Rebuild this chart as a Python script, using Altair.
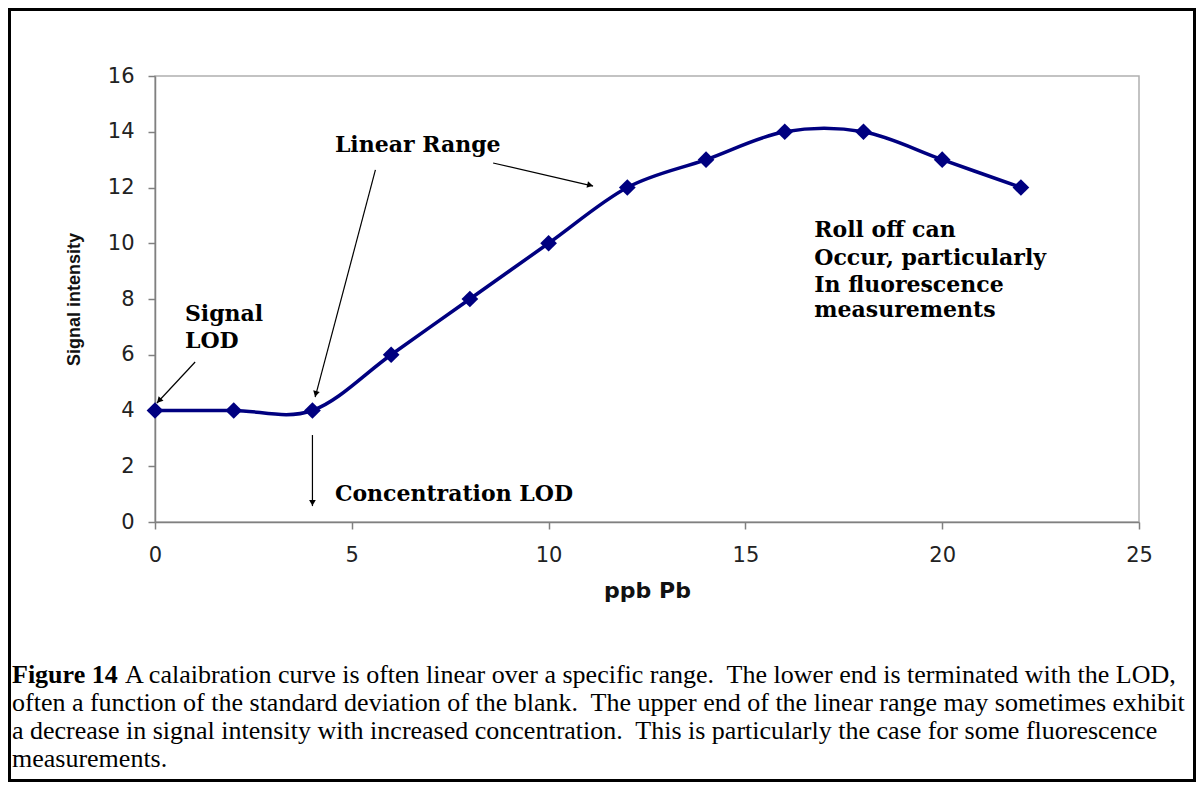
import altair as alt
import pandas as pd

# ---- data ----
ppb = [0, 2, 4, 6, 8, 10, 12, 14, 16, 18, 20, 22]
signal = [4, 4, 4, 6, 8, 10, 12, 13, 14, 14, 13, 12]

x_ticks = [0, 5, 10, 15, 20, 25]
y_ticks = [0, 2, 4, 6, 8, 10, 12, 14, 16]

# annotation labels (data units, left edge / baseline)
note_text = ["Linear Range", "Signal", "LOD", "Concentration LOD",
             "Roll off can", "Occur, particularly", "In fluorescence", "measurements"]
note_x = [4.57, 0.76, 0.76, 4.57, 16.75, 16.75, 16.75, 16.75]
note_y = [13.27, 7.21, 6.24, 0.75, 10.22, 9.22, 8.25, 7.35]

# annotation arrows (data units: start -> tip)
arrow_x = [5.6, 8.59, 1.02, 4.0]
arrow_y = [12.63, 12.88, 5.74, 3.12]
arrow_x2 = [4.07, 11.13, 0.05, 4.0]
arrow_y2 = [4.48, 12.05, 4.27, 0.57]
head_x = [4.09, 11.03, 0.12, 4.0]
head_y = [4.63, 12.09, 4.38, 0.72]
head_angle = [195, 103, 223, 180]

caption_bold = "Figure 14"
caption_lines = [
    "A calaibration curve is often linear over a specific range.\u00a0 The lower end is terminated with the LOD,",
    "often a function of the standard deviation of the blank.\u00a0 The upper end of the linear range may sometimes exhibit",
    "a decrease in signal intensity with increased concentration.\u00a0 This is particularly the case for some fluorescence",
    "measurements.",
]

# ---- tables ----
df = pd.DataFrame({"ppb": ppb, "signal": signal})
notes = pd.DataFrame({"ppb": note_x, "signal": note_y, "label": note_text})
arrows = pd.DataFrame({"ppb": arrow_x, "signal": arrow_y, "ppb2": arrow_x2, "signal2": arrow_y2})
heads = pd.DataFrame({"ppb": head_x, "signal": head_y, "angle": head_angle})

NAVY = "#000080"
W, H = 984, 446
TOTAL_W, TOTAL_H = 1188, 774
PAD_L, PAD_T = 147, 68

x_enc = alt.X("ppb:Q", scale=alt.Scale(domain=[0, 25], nice=False, zero=False),
              axis=alt.Axis(values=x_ticks, title="ppb Pb", labelPadding=15, titlePadding=15, labelFlush=False,
                            titleFont="DejaVu Sans", titleFontSize=22, titleFontWeight="bold"))
y_enc = alt.Y("signal:Q", scale=alt.Scale(domain=[0, 16], nice=False),
              axis=alt.Axis(values=y_ticks, title="Signal intensity", labelPadding=14, titlePadding=24, labelFlush=False,
                            titleFont="Liberation Sans", titleFontSize=18, titleFontWeight="bold"))

line = alt.Chart(df).mark_line(interpolate="cardinal", color=NAVY, strokeWidth=3.5).encode(x=x_enc, y=y_enc)
pts = alt.Chart(df).mark_point(shape="diamond", filled=True, size=280, color=NAVY, opacity=1).encode(
    x="ppb:Q", y="signal:Q")

arrow_lines = alt.Chart(arrows).mark_rule(color="black", strokeWidth=1.2).encode(
    x="ppb:Q", y="signal:Q", x2="ppb2", y2="signal2")
arrow_heads = alt.Chart(heads).mark_point(shape="triangle", filled=True, size=45, color="black", opacity=1).encode(
    x="ppb:Q", y="signal:Q", angle=alt.Angle("angle:Q", scale=None))

note_marks = alt.Chart(notes).mark_text(align="left", baseline="alphabetic", font="DejaVu Serif",
                                         fontWeight="bold", fontSize=22, color="black").encode(
    x="ppb:Q", y="signal:Q", text="label:N")

# outer frame of the figure
frame = alt.Chart(pd.DataFrame({"k": [0]})).mark_rect(filled=False, stroke="black", strokeWidth=3).encode(
    x=alt.value(-PAD_L + 1.5), x2=alt.value(TOTAL_W - PAD_L - 1.5),
    y=alt.value(-PAD_T + 1.5), y2=alt.value(TOTAL_H - PAD_T - 1.5))

cap_font = dict(font="Liberation Serif", fontSize=26, color="black", align="left", baseline="alphabetic")
caption = [alt.Chart(pd.DataFrame({"k": [0]})).mark_text(fontWeight="bold", **cap_font).encode(
    x=alt.value(-143), y=alt.value(607), text=alt.value(caption_bold))]
cap_x = [-30, -143, -143, -143]
cap_y = [607, 635, 663, 691]
for t, cx, cy in zip(caption_lines, cap_x, cap_y):
    caption.append(alt.Chart(pd.DataFrame({"k": [0]})).mark_text(**cap_font).encode(
        x=alt.value(cx), y=alt.value(cy), text=alt.value(t)))

chart = alt.layer(frame, arrow_lines, arrow_heads, line, pts, note_marks, *caption).properties(
    width=W, height=H,
    autosize=alt.AutoSizeParams(type="none"),
    padding={"left": PAD_L, "top": PAD_T, "right": TOTAL_W - PAD_L - W, "bottom": TOTAL_H - PAD_T - H},
    background="white",
).configure_view(stroke="#b0b0b0", strokeWidth=1.5).configure_axis(
    grid=False, domainColor="#808080", domainWidth=1.5, tickColor="#808080", tickWidth=1.5, tickSize=7,
    labelFont="DejaVu Sans", labelFontSize=21, labelColor="#222222", titleColor="#111111",
)

chart.save("out.html", embed_options={"renderer": "svg", "actions": False})
